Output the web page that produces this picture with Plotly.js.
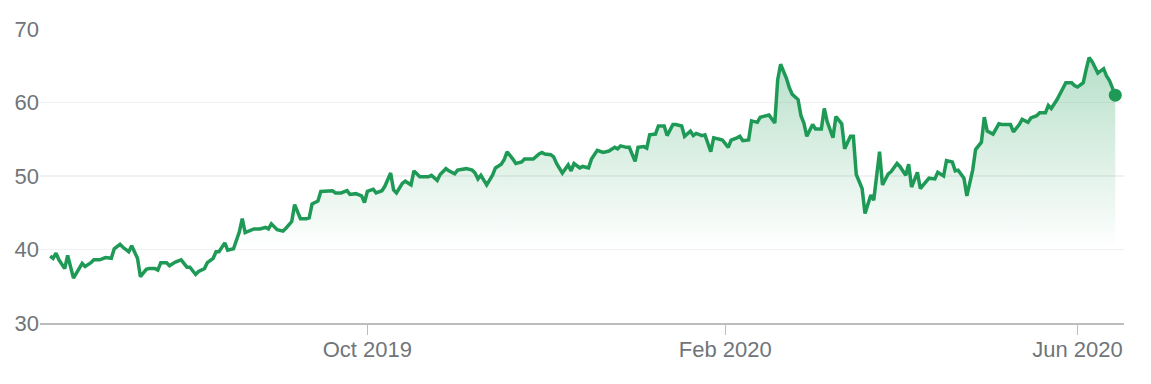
<!DOCTYPE html>
<html>
<head>
<meta charset="utf-8">
<script src="https://cdn.plot.ly/plotly-3.0.1.min.js"></script>
<style>
  html, body { margin: 0; padding: 0; background: #ffffff; }
  #chart { width: 1151px; height: 384px; }
</style>
</head>
<body>
<div id="chart"></div>
<script>
const dates = [
  "2019-06-14","2019-06-15","2019-06-16","2019-06-17","2019-06-19","2019-06-20","2019-06-22","2019-06-23","2019-06-25","2019-06-26",
  "2019-06-28","2019-06-29","2019-07-01","2019-07-03","2019-07-05","2019-07-06","2019-07-08","2019-07-09","2019-07-11","2019-07-12",
  "2019-07-14","2019-07-15","2019-07-17","2019-07-18","2019-07-20","2019-07-21","2019-07-22","2019-07-24","2019-07-25","2019-07-27",
  "2019-07-29","2019-07-31","2019-08-01","2019-08-03","2019-08-04","2019-08-06","2019-08-07","2019-08-09","2019-08-10","2019-08-11",
  "2019-08-13","2019-08-14","2019-08-16","2019-08-18","2019-08-19","2019-08-20","2019-08-22","2019-08-23","2019-08-25","2019-08-27",
  "2019-08-28","2019-08-29","2019-08-31","2019-09-02","2019-09-03","2019-09-05","2019-09-06","2019-09-08","2019-09-10","2019-09-11",
  "2019-09-12","2019-09-14","2019-09-15","2019-09-17","2019-09-19","2019-09-20","2019-09-22","2019-09-24","2019-09-25","2019-09-27",
  "2019-09-29","2019-09-30","2019-10-01","2019-10-03","2019-10-04","2019-10-06","2019-10-07","2019-10-09","2019-10-10","2019-10-11",
  "2019-10-13","2019-10-14","2019-10-16","2019-10-17","2019-10-19","2019-10-20","2019-10-22","2019-10-23","2019-10-25","2019-10-26",
  "2019-10-28","2019-10-29","2019-10-31","2019-11-01","2019-11-02","2019-11-04","2019-11-06","2019-11-07","2019-11-08","2019-11-09",
  "2019-11-11","2019-11-13","2019-11-14","2019-11-16","2019-11-17","2019-11-18","2019-11-20","2019-11-21","2019-11-23","2019-11-24",
  "2019-11-26","2019-11-27","2019-11-29","2019-11-30","2019-12-01","2019-12-03","2019-12-04","2019-12-05","2019-12-07","2019-12-09",
  "2019-12-10","2019-12-11","2019-12-13","2019-12-14","2019-12-16","2019-12-17","2019-12-19","2019-12-20","2019-12-21","2019-12-23",
  "2019-12-25","2019-12-26","2019-12-27","2019-12-29","2019-12-30","2020-01-01","2020-01-02","2020-01-04","2020-01-05","2020-01-06",
  "2020-01-08","2020-01-09","2020-01-11","2020-01-12","2020-01-14","2020-01-15","2020-01-17","2020-01-18","2020-01-20","2020-01-21",
  "2020-01-22","2020-01-24","2020-01-25","2020-01-27","2020-01-28","2020-01-30","2020-01-31","2020-02-02","2020-02-03","2020-02-05",
  "2020-02-06","2020-02-07","2020-02-09","2020-02-10","2020-02-12","2020-02-13","2020-02-15","2020-02-16","2020-02-18","2020-02-19",
  "2020-02-20","2020-02-22","2020-02-23","2020-02-24","2020-02-26","2020-02-27","2020-02-28","2020-02-29","2020-03-02","2020-03-03",
  "2020-03-05","2020-03-06","2020-03-07","2020-03-09","2020-03-10","2020-03-12","2020-03-13","2020-03-15","2020-03-16","2020-03-17",
  "2020-03-19","2020-03-20","2020-03-22","2020-03-23","2020-03-25","2020-03-26","2020-03-28","2020-03-29","2020-03-31","2020-04-01",
  "2020-04-03","2020-04-04","2020-04-05","2020-04-07","2020-04-08","2020-04-10","2020-04-11","2020-04-13","2020-04-14","2020-04-16",
  "2020-04-17","2020-04-19","2020-04-20","2020-04-21","2020-04-23","2020-04-24","2020-04-26","2020-04-27","2020-04-29","2020-04-30",
  "2020-05-01","2020-05-03","2020-05-05","2020-05-06","2020-05-09","2020-05-10","2020-05-12","2020-05-13","2020-05-15","2020-05-16",
  "2020-05-18","2020-05-19","2020-05-21","2020-05-22","2020-05-23","2020-05-25","2020-05-27","2020-05-28","2020-05-30","2020-05-31",
  "2020-06-01","2020-06-03","2020-06-04","2020-06-05","2020-06-06","2020-06-08","2020-06-10","2020-06-11","2020-06-12","2020-06-14"
];

const prices = [
  39.1,38.8,39.5,38.6,37.4,39.2,36.1,36.7,38.1,37.7,
  38.2,38.6,38.6,38.9,38.8,40.1,40.7,40.3,39.7,40.5,
  38.8,36.3,37.3,37.4,37.4,37.2,38.2,38.2,37.8,38.3,
  38.6,37.6,37.6,36.6,37.0,37.4,38.2,38.8,39.7,39.7,
  40.9,39.9,40.1,42.4,44.2,42.3,42.7,42.8,42.8,43.0,
  42.8,43.5,42.7,42.5,42.9,43.8,46.1,44.2,44.2,44.3,
  46.2,46.6,47.9,48.0,48.0,47.7,47.7,48.0,47.5,47.6,
  47.3,46.4,47.9,48.2,47.7,48.0,48.6,50.4,48.1,47.7,
  49.0,49.3,48.8,50.7,49.9,49.9,49.9,50.1,49.4,50.2,
  51.0,50.7,50.3,50.8,50.9,51.0,50.8,50.4,49.6,50.1,
  48.8,50.1,51.1,51.6,52.2,53.3,52.3,51.7,51.9,52.3,
  52.3,52.3,53.0,53.2,53.0,52.9,52.6,51.7,50.4,51.5,
  50.7,51.7,51.1,51.3,51.1,52.3,53.5,53.3,53.2,53.4,
  53.9,53.7,54.1,53.9,53.9,52.0,53.9,54.0,53.8,55.6,
  55.7,56.8,56.8,55.5,57.0,57.0,56.8,55.4,56.1,55.5,
  55.8,55.5,55.6,53.3,55.2,55.0,54.9,53.9,54.9,55.2,
  55.4,54.8,54.9,57.5,57.3,58.0,58.2,58.3,57.2,63.1,
  65.2,63.3,62.0,61.1,60.4,58.2,57.2,55.4,57.0,56.4,
  56.4,59.2,57.4,55.2,58.1,57.1,53.7,55.4,55.4,50.2,
  48.3,44.9,47.4,46.7,53.3,48.8,50.3,50.6,51.7,51.3,
  50.1,51.6,48.5,50.5,48.3,49.3,49.7,49.6,50.5,50.0,
  52.1,51.9,50.7,50.8,49.7,47.3,50.8,53.6,54.6,58.0,
  56.1,55.7,57.1,57.0,57.0,56.0,57.0,57.7,57.3,57.9,
  58.2,58.6,58.6,59.6,59.2,60.4,62.1,62.7,62.7,62.3,
  62.1,62.7,64.5,66.1,65.6,64.0,64.6,63.6,63.0,61.0
];

const xTickVals = ["2019-10-01", "2020-02-01", "2020-06-01"];
const xTickText = ["Oct 2019", "Feb 2020", "Jun 2020"];
const yTickVals = [30, 40, 50, 60, 70];
const yTickText = ["30", "40", "50", "60", "70"];

const green = "#1e9a56";
const fontFam = 'Arial, "Liberation Sans", sans-serif';
const n = dates.length;

const traces = [
  {
    type: "scatter",
    mode: "lines",
    x: dates,
    y: prices,
    line: { color: green, width: 3.5, shape: "linear" },
    fill: "tozeroy",
    fillgradient: {
      type: "vertical",
      start: 40,
      stop: 66,
      colorscale: [[0, "rgba(30,157,88,0)"], [1, "rgba(30,157,88,0.32)"]]
    },
    hoverinfo: "skip",
    showlegend: false
  },
  {
    type: "scatter",
    mode: "markers",
    x: [dates[n - 1]],
    y: [prices[n - 1]],
    marker: { color: green, size: 13 },
    hoverinfo: "skip",
    showlegend: false
  }
];

const layout = {
  width: 1151,
  height: 384,
  margin: { l: 40, r: 27, t: 29, b: 61 },
  paper_bgcolor: "#ffffff",
  plot_bgcolor: "#ffffff",
  showlegend: false,
  hovermode: false,
  font: { family: fontFam, color: "#70757a", size: 22 },
  xaxis: {
    type: "date",
    range: ["2019-06-10 12:00", "2020-06-17"],
    tickmode: "array",
    tickvals: xTickVals,
    ticktext: xTickText,
    showgrid: false,
    zeroline: false,
    showline: true,
    linecolor: "#bdbdbd",
    linewidth: 2,
    ticks: "outside",
    ticklen: 10,
    tickwidth: 1.5,
    tickcolor: "#bdbdbd",
    ticklabelstandoff: -4,
    tickfont: { family: fontFam, size: 22, color: "#70757a" },
    fixedrange: true
  },
  yaxis: {
    range: [30, 70],
    tickmode: "array",
    tickvals: yTickVals,
    ticktext: yTickText,
    showgrid: true,
    gridcolor: "#f1f1f1",
    gridwidth: 1.5,
    zeroline: false,
    showline: false,
    ticks: "",
    tickfont: { family: fontFam, size: 22, color: "#70757a" },
    fixedrange: true
  }
};

Plotly.newPlot("chart", traces, layout, { staticPlot: true, displayModeBar: false });
</script>
</body>
</html>
